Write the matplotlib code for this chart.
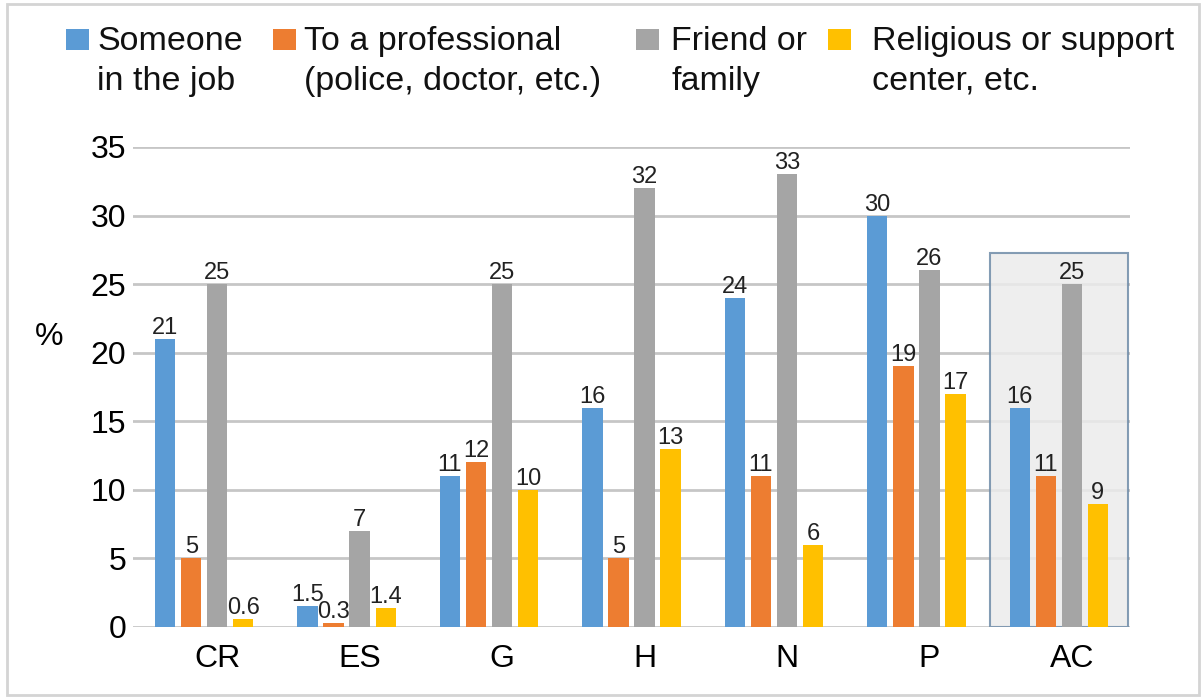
import numpy as np
import matplotlib.pyplot as plt
import matplotlib.transforms as mtransforms
from matplotlib.patches import Rectangle

plt.rcParams['font.family'] = ['Liberation Sans', 'DejaVu Sans']

categories = ['CR', 'ES', 'G', 'H', 'N', 'P', 'AC']
series_names = ['Someone\nin the job', 'To a professional\n(police, doctor, etc.)',
                'Friend or\nfamily', 'Religious or support\ncenter, etc.']
colors = ['#5b9bd5', '#ed7d31', '#a5a5a5', '#ffc000']

job = [21, 1.5, 11, 16, 24, 30, 16]
professional = [5, 0.3, 12, 5, 11, 19, 11]
friend = [25, 7, 25, 32, 33, 26, 25]
religious = [0.6, 1.4, 10, 13, 6, 17, 9]
series = [job, professional, friend, religious]

yticks = [0, 5, 10, 15, 20, 25, 30, 35]

W, H = 1204, 698
fig = plt.figure(figsize=(W / 100, H / 100), dpi=100)
ax = fig.add_axes([133 / W, 1 - 627 / H, (1130 - 133) / W, (627 - 147) / H])

x = np.arange(len(categories))
step = 0.183
width = 0.143
for i, (vals, c) in enumerate(zip(series, colors)):
    pos = x + (i - 1.5) * step
    bars = ax.bar(pos, vals, width, color=c, zorder=3)
    for b, v in zip(bars, vals):
        ax.text(b.get_x() + b.get_width() / 2, v, f'{v:g}', ha='center', va='bottom',
                fontsize=17, color='#222222', zorder=4)

# highlight box around the average (AC)
ac = len(categories) - 1
ax.add_patch(Rectangle((ac - 0.48, 0), 0.965, 27.3, facecolor='#ebebeb', alpha=0.85,
                       edgecolor='#6f8ca8', linewidth=1.5, zorder=2))

ax.set_xlim(-0.5, len(categories) - 0.5)
ax.set_ylim(0, 35)
ax.set_yticks(yticks)
ax.set_xticks(x)
ax.set_xticklabels(categories, fontsize=23)
ax.tick_params(axis='y', labelsize=23, length=0, pad=5)
ax.tick_params(axis='x', length=0, pad=12)
offset = mtransforms.ScaledTranslation(13 / 100, 0, fig.dpi_scale_trans)
for lab in ax.get_xticklabels():
    lab.set_transform(lab.get_transform() + offset)
ax.grid(axis='y', color='#c6c6c6', linewidth=2, zorder=0)
ax.set_axisbelow(True)
for s in ax.spines.values():
    s.set_visible(False)

fig.text(49 / W, 1 - 337 / H, '%', fontsize=23, ha='center', va='center')

# legend
sq_x = [66, 273, 636, 828]
txt_x = [97, 304, 671, 872]
for sx, tx, name, c in zip(sq_x, txt_x, series_names, colors):
    fig.patches.append(Rectangle((sx / W, 1 - 50 / H), 23 / W, 21 / H, facecolor=c,
                                 transform=fig.transFigure, figure=fig))
    fig.text(tx / W, 1 - 26 / H, name, fontsize=24.5, va='top', ha='left',
             linespacing=1.36, color='#111111')

# outer frame
fig.patches.append(Rectangle((7 / W, 3 / H), 1192 / W, 691 / H, fill=False,
                             edgecolor='#d4d4d4', linewidth=2,
                             transform=fig.transFigure, figure=fig))

fig.savefig('out.png', dpi=100)
